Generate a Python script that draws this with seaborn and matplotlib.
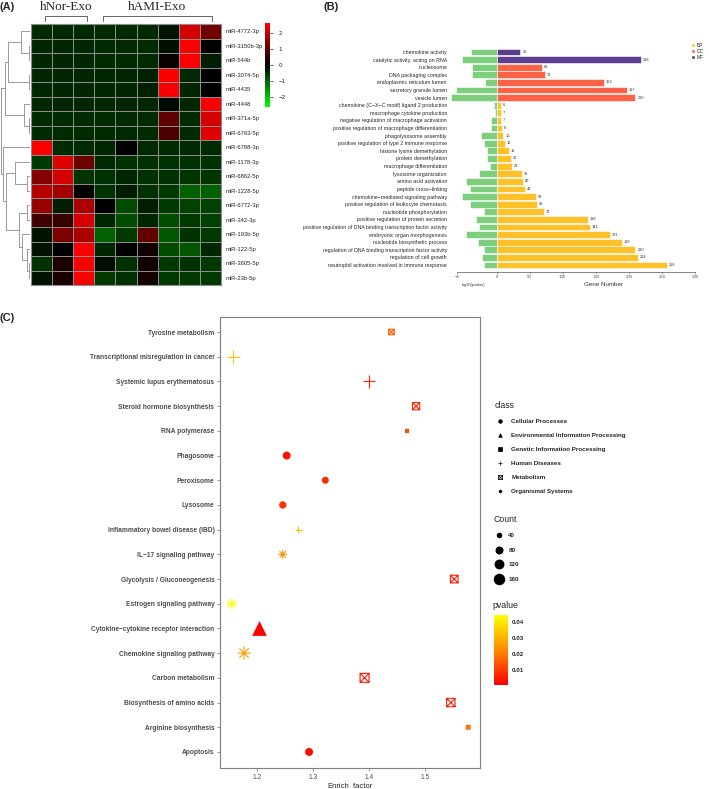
import numpy as np
import pandas as pd
import matplotlib
matplotlib.use("Agg")
import matplotlib.pyplot as plt
import seaborn as sns
from matplotlib.colors import LinearSegmentedColormap, Normalize
from matplotlib.cm import ScalarMappable
from matplotlib.lines import Line2D
from matplotlib.patches import Patch
from matplotlib.path import Path

# ---------------- (A) miRNA heatmap ----------------
mirnas = ["miR-4772-3p", "miR-3150b-3p", "miR-544b", "miR-3074-5p", "miR-4435",
          "miR-4448", "miR-371a-5p", "miR-6763-5p", "miR-6788-3p", "miR-1178-3p",
          "miR-6862-5p", "miR-1228-5p", "miR-6772-3p", "miR-342-3p", "miR-193b-5p",
          "miR-122-5p", "miR-3605-5p", "miR-23b-5p"]
samples = ["N1", "N2", "N3", "A1", "A2", "A3", "A4", "A5", "A6"]
expr = [
    [-0.45, -0.45, -0.45, -0.45, -0.45, -0.45, -0.2, 2.2, 1.2],
    [-0.4, -0.4, -0.4, -0.45, -0.45, -0.45, -0.15, 2.6, 0.0],
    [-0.4, -0.4, -0.4, -0.45, -0.45, -0.45, 0.1, 2.6, -0.3],
    [-0.4, -0.4, -0.4, -0.4, -0.4, -0.35, 2.6, -0.4, 0.0],
    [-0.4, -0.4, -0.4, -0.4, -0.4, -0.35, 2.6, -0.4, 0.0],
    [-0.4, -0.4, -0.4, -0.4, -0.4, -0.4, -0.1, -0.4, 2.6],
    [-0.45, -0.45, -0.45, -0.45, -0.45, -0.45, 1.0, -0.45, 2.2],
    [-0.45, -0.45, -0.45, -0.45, -0.45, -0.45, 0.8, -0.45, 2.3],
    [2.6, -0.45, -0.45, -0.4, 0.0, -0.45, -0.45, -0.45, -0.45],
    [-0.6, 2.3, 1.1, -0.45, -0.5, -0.5, -0.5, -0.5, -0.5],
    [1.4, 2.2, -0.55, -0.5, -0.4, -0.5, -0.5, -0.55, -0.55],
    [1.9, 1.7, 0.0, -0.5, -0.3, -0.5, -0.6, -1.0, -1.0],
    [1.6, -0.3, 1.8, 0.0, -0.8, -0.3, -0.6, -0.7, -0.7],
    [0.7, 0.6, 2.2, -0.4, -0.8, -0.4, -0.8, -0.6, -0.7],
    [-0.2, 1.3, 1.8, -1.0, -0.6, 1.0, -0.9, -0.5, -0.6],
    [-0.2, 0.0, 2.6, -0.4, 0.0, 0.2, -0.8, -0.9, -0.4],
    [-0.5, 0.3, 2.6, -0.15, -0.5, 0.2, -0.6, -0.5, -0.6],
    [-0.2, 0.25, 2.6, -0.6, -0.5, 0.2, -0.6, -0.6, -0.6],
]
# row dendrogram: (child_a, child_b, height); leaves 0..17, merges numbered from 18
merges = [(1, 2, 1), (0, 18, 9), (3, 4, 1), (19, 20, 22), (6, 7, 1), (5, 22, 6),
          (21, 23, 25), (10, 11, 3), (9, 25, 15), (12, 13, 3), (16, 17, 0.5),
          (15, 28, 3), (14, 29, 8), (27, 30, 11), (26, 31, 24), (8, 32, 27),
          (24, 33, 29)]

# ---------------- (B) GO enrichment ----------------
go_terms = ["chemokine activity", "catalytic activity, acting on RNA", "nucleosome",
            "DNA packaging complex", "endoplasmic reticulum lumen", "secretory granule lumen",
            "vesicle lumen", "chemokine (C\u2212X\u2212C motif) ligand 2 production",
            "macrophage cytokine production", "negative regulation of macrophage activation",
            "positive regulation of macrophage differentiation", "phagolysosome assembly",
            "positive regulation of type 2 immune response", "histone lysine demethylation",
            "protein demethylation", "macrophage differentiation", "lysosome organization",
            "amino acid activation", "peptide cross\u2212linking",
            "chemokine\u2212mediated signaling pathway", "positive regulation of leukocyte chemotaxis",
            "nucleotide phosphorylation", "positive regulation of protein secretion",
            "positive regulation of DNA binding transcription factor activity",
            "embryonic organ morphogenesis", "nucleotide biosynthetic process",
            "regulation of DNA binding transcription factor activity", "regulation of cell growth",
            "neutrophil activation involved in immune response"]
go_class = ["MF", "MF"] + ["CC"] * 5 + ["BP"] * 22
gene_num = [36, 218, 69, 73, 162, 197, 210, 6, 7, 7, 8, 10, 12, 19, 21, 23, 38, 40, 43,
            59, 61, 72, 138, 141, 171, 189, 210, 214, 258]
log10_p = [-3.8, -5.2, -3.7, -3.7, -1.8, -6.1, -6.9, -0.35, -0.3, -0.85, -0.85, -2.4, -1.9,
           -1.5, -1.45, -1.05, -2.65, -4.6, -4.0, -5.2, -4.1, -1.9, -3.1, -2.6, -4.6, -2.8,
           -1.85, -2.25, -1.85]

# ---------------- (C) KEGG enrichment ----------------
kegg_terms = ["Tyrosine metabolism", "Transcriptional misregulation in cancer",
              "Systemic lupus erythematosus", "Steroid hormone biosynthesis", "RNA polymerase",
              "Phagosome", "Peroxisome", "Lysosome", "Inflammatory bowel disease (IBD)",
              "IL\u221217 signaling pathway", "Glycolysis / Gluconeogenesis",
              "Estrogen signaling pathway", "Cytokine\u2212cytokine receptor interaction",
              "Chemokine signaling pathway", "Carbon metabolism", "Biosynthesis of amino acids",
              "Arginine biosynthesis", "Apoptosis"]
kegg_class = ["Metabolism", "Human Diseases", "Human Diseases", "Metabolism",
              "Genetic Information Processing", "Cellular Processes", "Cellular Processes",
              "Cellular Processes", "Human Diseases", "Organismal Systems", "Metabolism",
              "Organismal Systems", "Environmental Information Processing", "Organismal Systems",
              "Metabolism", "Metabolism", "Metabolism", "Cellular Processes"]
enrich = [1.44, 1.158, 1.40, 1.484, 1.468, 1.253, 1.322, 1.246, 1.274, 1.246, 1.552, 1.155,
          1.204, 1.177, 1.392, 1.546, 1.577, 1.293]
counts = [50, 104, 100, 84, 32, 80, 62, 67, 36, 52, 93, 72, 147, 110, 125, 110, 25, 80]
pvals = [0.015, 0.033, 0.006, 0.006, 0.012, 0.003, 0.007, 0.008, 0.032, 0.024, 0.004, 0.0445,
         0.0002, 0.026, 0.004, 0.005, 0.018, 0.002]

W, H = 709, 789


def box(l, t, r, b):
    return [l / W, 1 - b / H, (r - l) / W, (b - t) / H]


sns.set_theme(style="white")
plt.rcParams["font.family"] = ["Liberation Sans", "DejaVu Sans"]
fig = plt.figure(figsize=(W / 100, H / 100), dpi=100)

# ---- (A)
df_a = pd.DataFrame(expr, index=mirnas, columns=samples)
gbr = LinearSegmentedColormap.from_list("gbr", ["#00FF00", "#000000", "#FF0000"])
ax_h = fig.add_axes(box(31, 24, 221, 285))
cax = fig.add_axes(box(265, 23, 270, 107))
sns.heatmap(df_a, cmap=gbr, vmin=-2.65, vmax=2.65, linewidths=0.5, linecolor="#8c8c8c",
            cbar_ax=cax, xticklabels=False, yticklabels=True, ax=ax_h)
ax_h.yaxis.tick_right()
ax_h.tick_params(axis="y", length=0, labelsize=4.2, pad=3, labelright=True, labelleft=False,
                 rotation=0)
ax_h.set_xlabel("")
ax_h.set_ylabel("")
for s in ax_h.spines.values():
    s.set_visible(True)
    s.set_color("#8c8c8c")
    s.set_linewidth(0.8)
cax.set_yticks([-2, -1, 0, 1, 2])
cax.tick_params(labelsize=4.5, length=2, width=0.5, pad=4)
ax_h.collections[0].colorbar.outline.set_visible(False)

# dendrogram
ax_d = fig.add_axes(box(0, 24, 30, 285))
n = len(mirnas)
pos = {i: (i + 0.5, 0.0) for i in range(n)}
for k, (a, b, h) in enumerate(merges):
    ya, ha = pos[a]
    yb, hb = pos[b]
    ax_d.plot([ha, h, h, hb], [ya, ya, yb, yb], color="#8a8a8a", lw=0.6)
    pos[n + k] = ((ya + yb) / 2, h)
ax_d.set_xlim(30, 0)
ax_d.set_ylim(n, 0)
ax_d.axis("off")

# group headers
for label, x0, x1 in [("hNor-Exo", 45, 87), ("hAMI-Exo", 103, 212)]:
    fig.text(((x0 + x1) / 2) / W, 1 - 7 / H, label, ha="center", va="center",
             fontsize=9.5, family="Liberation Serif")
    fig.add_artist(Line2D([x0 / W, x0 / W, x1 / W, x1 / W],
                          [1 - 21 / H, 1 - 16 / H, 1 - 16 / H, 1 - 21 / H],
                          color="#666666", lw=0.7))
fig.text(0, 1 - 7 / H, "(A)", fontsize=8, fontweight="bold", va="center")

# ---- (B)
go_pal = {"BP": "#FFC12A", "CC": "#FF6347", "MF": "#5C3D8E"}
df_b = pd.DataFrame({"term": go_terms, "cls": go_class, "genes": gene_num, "lp": log10_p})
df_b["lp_scaled"] = df_b["lp"] * 10  # 1 log unit drawn as 10 genes
ax_b = fig.add_axes(box(449, 48.2, 695, 268.8))
sns.barplot(data=df_b, x="lp_scaled", y="term", color="#7DCE7D", width=0.9,
            edgecolor="white", linewidth=0.4, saturation=1, ax=ax_b)
sns.barplot(data=df_b, x="genes", y="term", hue="cls", palette=go_pal, dodge=False,
            width=0.9, edgecolor="white", linewidth=0.4, saturation=1, legend=False, ax=ax_b)
for i, v in enumerate(gene_num):
    ax_b.text(v + 3, i, str(v), fontsize=2.8, va="center", color="#333333")
ax_b.set_xlim(-72, 300)
ax_b.set_ylim(len(go_terms) - 0.5, -0.5)
ticks_b = [-60, 0, 50, 100, 150, 200, 250, 300]
ax_b.set_xticks(ticks_b)
ax_b.set_xticklabels(["\u22126", "0", "50", "100", "150", "200", "250", "300"])
ax_b.tick_params(axis="x", labelsize=3.2, length=1.6, width=0.4, colors="#555555", pad=0.6,
                 bottom=True)
ax_b.tick_params(axis="y", labelsize=3.8, length=0, pad=1.5)
for s in ["top", "right", "left"]:
    ax_b.spines[s].set_visible(False)
ax_b.spines["bottom"].set_position(("outward", 2.2))
ax_b.spines["bottom"].set_bounds(-60, 300)
ax_b.spines["bottom"].set_linewidth(0.5)
ax_b.spines["bottom"].set_color("#555555")
ax_b.set_xlabel("")
ax_b.set_ylabel("")
fig.text(603 / W, 1 - 285 / H, "Gene Number", fontsize=4.5, ha="center", va="center",
         color="#333333")
fig.text(474 / W, 1 - 284.5 / H, "log10(pvalue)", fontsize=2.8, ha="center", va="center",
         color="#333333")
fig.legend(handles=[Patch(fc=go_pal[k], label=k) for k in go_pal], loc="upper left",
           bbox_to_anchor=(691 / W, 1 - 43 / H), fontsize=3.6, frameon=False,
           handlelength=0.75, handleheight=0.75, handletextpad=0.4, labelspacing=0.2,
           borderaxespad=0, borderpad=0)
fig.text(323 / W, 1 - 7 / H, "(B)", fontsize=8, fontweight="bold", va="center")

# ---- (C)
boxx = Path([(-1, -1), (1, -1), (1, 1), (-1, 1), (-1, -1), (-1, -1), (1, 1), (-1, 1), (1, -1)],
            [Path.MOVETO, Path.LINETO, Path.LINETO, Path.LINETO, Path.CLOSEPOLY,
             Path.MOVETO, Path.LINETO, Path.MOVETO, Path.LINETO])
plus = Path([(-1, 0), (1, 0), (0, -1), (0, 1)],
            [Path.MOVETO, Path.LINETO, Path.MOVETO, Path.LINETO])
star8 = Path([(-1, 0), (1, 0), (0, -1), (0, 1), (-0.707, -0.707), (0.707, 0.707),
              (-0.707, 0.707), (0.707, -0.707)],
             [Path.MOVETO, Path.LINETO] * 4)
# marker, size factor (ggplot shapes differ in extent from a circle of same size)
class_style = {
    "Cellular Processes": ("o", 1.0),
    "Environmental Information Processing": ("^", 1.8),
    "Genetic Information Processing": ("s", 0.785),
    "Human Diseases": (plus, 2.0),
    "Metabolism": (boxx, 0.785),
    "Organismal Systems": (star8, 2.0),
}
line_art = ["Human Diseases", "Organismal Systems", "Metabolism"]
p_cmap = LinearSegmentedColormap.from_list("ry", ["#FF0000", "#FF8A00", "#FFFF00"])
p_norm = Normalize(min(pvals), max(pvals))
size_norm = (10, 200)
size_rng = (2.5, 86)

df_c = pd.DataFrame({"term": kegg_terms, "cls": kegg_class, "enrich": enrich,
                     "count": counts, "p": pvals})
df_c["row"] = np.arange(len(df_c))
ax_c = fig.add_axes(box(220, 317, 480, 768))
for cls, (m, f) in class_style.items():
    sub = df_c[df_c["cls"] == cls]
    sns.scatterplot(data=sub, x="enrich", y="row", hue="p", hue_norm=p_norm, palette=p_cmap,
                    size="count", size_norm=size_norm,
                    sizes=(size_rng[0] * f, size_rng[1] * f), marker=m,
                    linewidth=0.8 if cls in line_art else 0, legend=False, ax=ax_c)
    if cls in line_art:
        # outline-only shapes: draw the mapped colour on the strokes
        coll = ax_c.collections[-1]
        coll.set_edgecolors(p_cmap(p_norm(sub["p"].to_numpy())))
        coll.set_facecolors("none")
        coll.set_linewidths(0.8)
ax_c.set_xlim(1.134, 1.598)
ax_c.set_ylim(len(kegg_terms) - 1 + 0.65, -0.61)
ax_c.set_yticks(df_c["row"])
ax_c.set_yticklabels(kegg_terms)
ax_c.set_xticks([1.2, 1.3, 1.4, 1.5])
ax_c.tick_params(axis="y", labelsize=4.8, length=2, width=0.4, colors="#4D4D4D", pad=2,
                 left=True)
ax_c.tick_params(axis="x", labelsize=4.8, length=2, width=0.4, colors="#4D4D4D", pad=2,
                 bottom=True)
for lab in ax_c.get_yticklabels():
    lab.set_fontweight("bold")
for s in ax_c.spines.values():
    s.set_color("#7f7f7f")
    s.set_linewidth(0.8)
ax_c.set_ylabel("")
ax_c.set_xlabel("Enrich_factor", fontsize=5.5, labelpad=1)
fig.text(0, 1 - 318 / H, "(C)", fontsize=8, fontweight="bold", va="center")

# class legend
cls_handles = []
for cls, (m, f) in class_style.items():
    if cls in line_art:
        h = Line2D([], [], marker=m, ls="", color="black", mfc="none", mew=0.5, ms=2.8)
    else:
        h = Line2D([], [], marker=m, ls="", color="black", mew=0.5, ms=2.6)
    cls_handles.append(h)
fig.legend(cls_handles, list(class_style), title="class", loc="upper left",
           bbox_to_anchor=(495 / W, 1 - 401 / H), frameon=False,
           prop={"size": 4.5, "weight": "bold"}, title_fontsize=6.3,
           alignment="left", labelspacing=1.38, handletextpad=1.1,
           handlelength=1.5, borderpad=0, borderaxespad=0)

# count legend
cnt_breaks = [40, 80, 120, 160]
cnt_handles = []
for c in cnt_breaks:
    s = size_rng[0] + (c - size_norm[0]) / (size_norm[1] - size_norm[0]) * (size_rng[1] - size_rng[0])
    cnt_handles.append(Line2D([], [], marker="o", ls="", color="black", ms=np.sqrt(s), mew=0))
fig.legend(cnt_handles, [str(c) for c in cnt_breaks], title="Count", loc="upper left",
           bbox_to_anchor=(494 / W, 1 - 515 / H), frameon=False,
           prop={"size": 4.5, "weight": "bold"}, title_fontsize=6.3, alignment="left",
           labelspacing=1.45, handletextpad=0.8, handlelength=1.5, borderpad=0,
           borderaxespad=0)

# pvalue colorbar
cax2 = fig.add_axes(box(494, 615, 508, 685))
cb = fig.colorbar(ScalarMappable(norm=p_norm, cmap=p_cmap), cax=cax2)
cb.set_ticks([0.01, 0.02, 0.03, 0.04])
cb.outline.set_visible(False)
cax2.tick_params(labelsize=4.5, length=3, width=0.5, color="white", direction="in", pad=3)
for lab in cax2.get_yticklabels():
    lab.set_fontweight("bold")
fig.text(492 / W, 1 - 606 / H, "pvalue", fontsize=6.3, va="center")

fig.savefig("out.png", dpi=100)
